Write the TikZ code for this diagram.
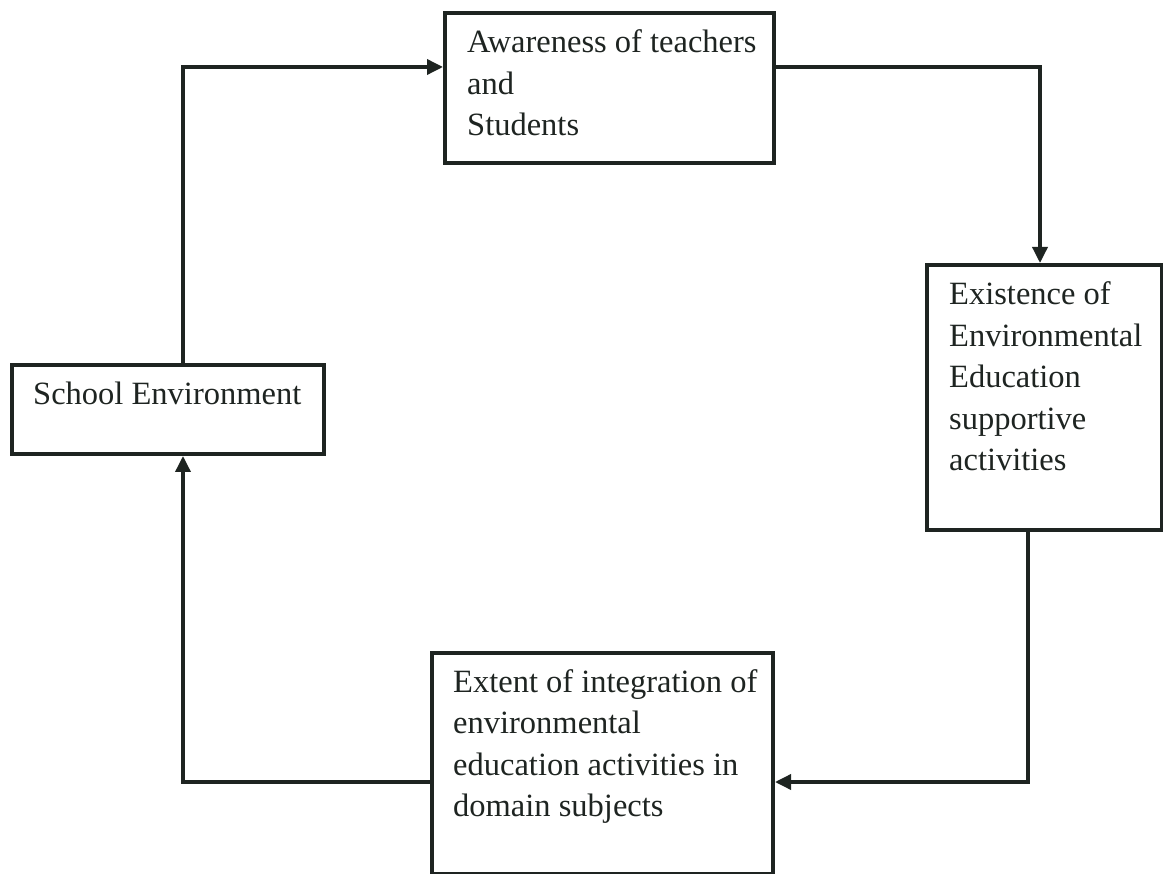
\documentclass[tikz,border=0pt]{standalone}
\usepackage{fontspec}
\setmainfont{Liberation Serif}
\usetikzlibrary{arrows.meta}
\definecolor{ink}{RGB}{30,36,33}
\begin{document}
\begin{tikzpicture}[x=1pt,y=-1pt,
  box/.style={draw=ink,line width=4pt,inner sep=0pt},
  txt/.style={anchor=base west,inner sep=0pt,text=ink,font=\fontsize{32.5}{41.5}\selectfont},
  conn/.style={draw=ink,line width=3.5pt},
  arr/.style={conn,-{Triangle[length=16pt,width=15pt]}}]
\useasboundingbox (0,0) rectangle (1163,874);
% boxes
\node[box,minimum width=329pt,minimum height=150pt,anchor=north west] (aware) at (443,11) {};
\node[box,minimum width=235pt,minimum height=265pt,anchor=north west] (exist) at (925,263) {};
\node[box,minimum width=312pt,minimum height=89pt,anchor=north west] (school) at (10,363) {};
\node[box,minimum width=341pt,minimum height=221pt,anchor=north west] (extent) at (430,651) {};
% texts
\node[txt] (tAware) at (467,53) {\vtop{\hbox{Awareness of teachers}\hbox{and}\hbox{Students}}};
\node[txt] (tExist) at (949,305) {\vtop{\hbox{Existence of}\hbox{Environmental}\hbox{Education}\hbox{supportive}\hbox{activities}}};
\node[txt] (tSchool) at (33,405) {School Environment};
\node[txt] (tExtent) at (453,692) {\vtop{\hbox{Extent of integration of}\hbox{environmental}\hbox{education activities in}\hbox{domain subjects}}};
% bend points
\coordinate (c1) at (183,67);
\coordinate (c2) at (1040,67);
\coordinate (c3) at (1028,782);
\coordinate (c4) at (183,782);
% connectors
\draw[arr] (school.north -| c1) -- (c1) -- (aware.west |- c1);
\draw[arr] (aware.east |- c2) -- (c2) -- (exist.north -| c2);
\draw[arr] (exist.south -| c3) -- (c3) -- (extent.east |- c3);
\draw[arr] (extent.west |- c4) -- (c4) -- (school.south -| c4);
\end{tikzpicture}
\end{document}
